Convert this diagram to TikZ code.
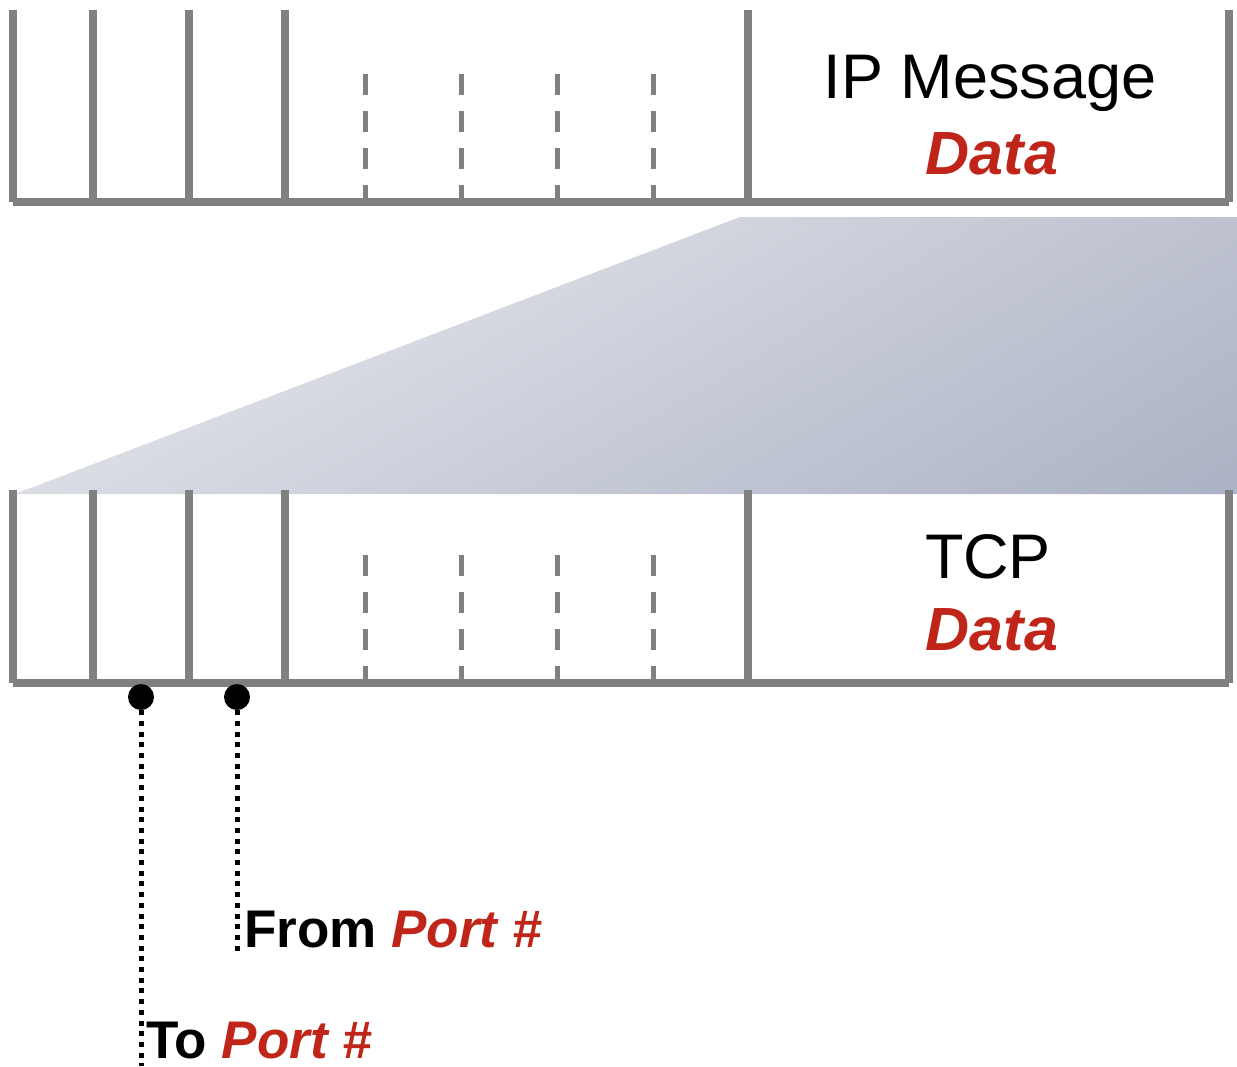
\documentclass[tikz,border=0pt]{standalone}
\usepackage{fontspec}
\setmainfont{Liberation Sans}
\usetikzlibrary{shadings}
\definecolor{rule}{HTML}{808080}
\definecolor{accent}{HTML}{C0251A}
\definecolor{wedgeUL}{HTML}{EEF0F3}
\definecolor{wedgeUR}{HTML}{BEC2CF}
\definecolor{wedgeLL}{HTML}{DADDE4}
\definecolor{wedgeLR}{HTML}{ABB2C5}
\begin{document}
\begin{tikzpicture}[x=1pt,y=-1pt,
  wall/.style={draw=rule,line width=8pt},
  slot/.style={draw=rule,line width=5pt,dash pattern=on 21pt off 16pt},
  pin/.style={circle,fill=black,inner sep=0pt,minimum size=26pt},
  lead/.style={draw=black,line width=5pt,dash pattern=on 5pt off 5.7pt},
  title/.style={font=\fontsize{63}{70}\selectfont,anchor=base,inner sep=0pt},
  payload/.style={font=\fontsize{61}{70}\selectfont\bfseries\itshape,text=accent,anchor=base,inner sep=0pt},
  tag/.style={font=\fontsize{53}{60}\selectfont\bfseries,anchor=base west,inner sep=0pt}]
\useasboundingbox (0,0) rectangle (1237,1066);
\fill[white] (0,0) rectangle (1237,1066);

% expanding wedge between the two frames
\shade[upper left=wedgeUL, upper right=wedgeUR,
       lower left=wedgeLL, lower right=wedgeLR]
  (15,494) -- (740,217) -- (1237,217) -- (1237,494) -- cycle;

% upper frame (IP message)
\foreach \x in {13,93,189,285,748,1229} \draw[wall] (\x,10) -- (\x,202);
\draw[wall] (13,202) -- (1229,202);
\foreach \x in {365,461,557,653} \draw[slot] (\x,74) -- (\x,202);
\node[title]   (ipmsg)  at (990,98)  {IP Message};
\node[payload] (ipdata) at (992,174) {Data};

% lower frame (TCP segment)
\foreach \x in {13,93,189,285,748,1229} \draw[wall] (\x,490) -- (\x,683);
\draw[wall] (13,683) -- (1229,683);
\foreach \x in {365,461,557,653} \draw[slot] (\x,555) -- (\x,683);
\node[title]   (tcp)     at (988,578) {TCP};
\node[payload] (tcpdata) at (992,650) {Data};

% port fields
\node[pin] (topin)   at (141,697) {};
\node[pin] (frompin) at (237,697) {};
\coordinate (toend)   at (141,1066);
\coordinate (fromend) at (237,953);
\draw[lead] (topin.south) -- (toend);
\draw[lead] (frompin.south) -- (fromend);
\node[tag] (fromlabel) at (244,947)  {From \textcolor{accent}{\itshape Port \#}};
\node[tag] (tolabel)   at (146,1058) {To \textcolor{accent}{\itshape Port \#}};
\end{tikzpicture}
\end{document}
